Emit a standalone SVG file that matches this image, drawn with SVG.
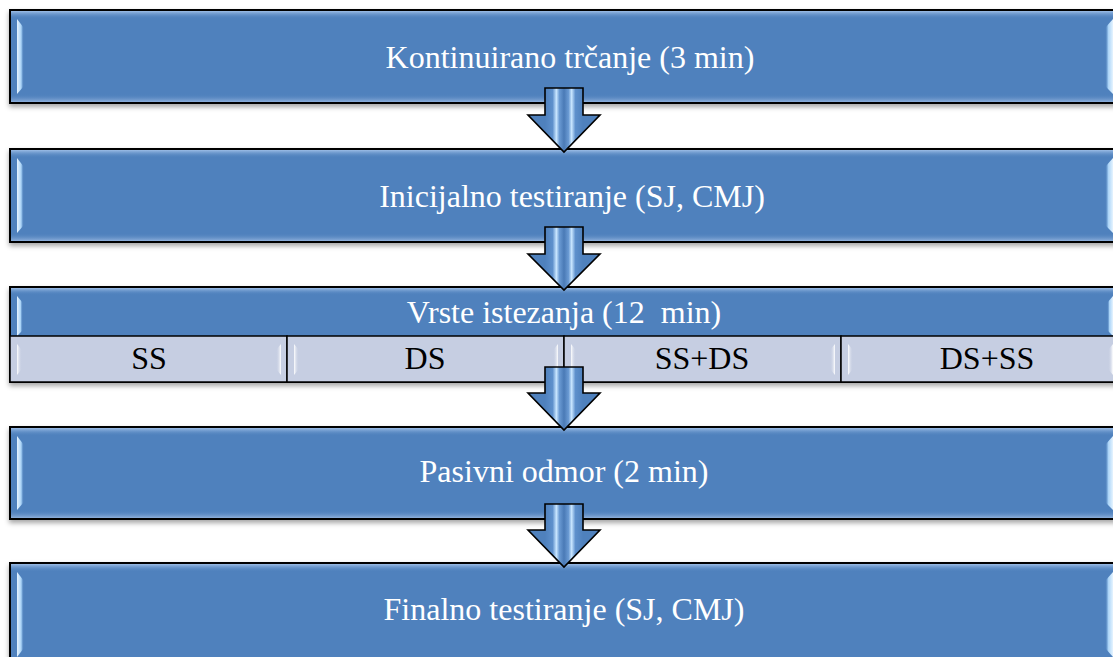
<svg xmlns="http://www.w3.org/2000/svg" width="1113" height="657" viewBox="0 0 1113 657">
<defs>
<style>
.box{fill:#4f81bd;stroke:#000;stroke-width:2}
.cell{fill:#c6cee2;stroke:#000;stroke-width:1.5}
.t{font-family:"Liberation Serif","Times New Roman",serif;font-size:32px;fill:#fff;text-anchor:middle;white-space:pre}
.tc{font-family:"Liberation Serif","Times New Roman",serif;font-size:32px;fill:#000;text-anchor:middle}
.arrow{fill:url(#ag);stroke:#000;stroke-width:1.6;stroke-linejoin:miter}
</style>
<linearGradient id="topb" x1="0" y1="0" x2="0" y2="1">
<stop offset="0" stop-color="#9cbde6"/><stop offset="1" stop-color="#4f81bd" stop-opacity="0"/>
</linearGradient>
<linearGradient id="botb" x1="0" y1="0" x2="0" y2="1">
<stop offset="0" stop-color="#4f81bd" stop-opacity="0"/><stop offset="1" stop-color="#8fb0db"/>
</linearGradient>
<linearGradient id="leftb" x1="0" y1="0" x2="1" y2="0">
<stop offset="0" stop-color="#e6f4ff"/><stop offset="0.6" stop-color="#a9d3f7"/><stop offset="1" stop-color="#4f81bd" stop-opacity="0"/>
</linearGradient>
<linearGradient id="rightb" x1="1" y1="0" x2="0" y2="0">
<stop offset="0" stop-color="#e6f4ff"/><stop offset="0.6" stop-color="#a9d3f7"/><stop offset="1" stop-color="#4f81bd" stop-opacity="0"/>
</linearGradient>
<linearGradient id="cellL" x1="0" y1="0" x2="1" y2="0">
<stop offset="0" stop-color="#ffffff"/><stop offset="1" stop-color="#c6cee2" stop-opacity="0"/>
</linearGradient>
<linearGradient id="cellR" x1="1" y1="0" x2="0" y2="0">
<stop offset="0" stop-color="#ffffff"/><stop offset="1" stop-color="#c6cee2" stop-opacity="0"/>
</linearGradient>
<linearGradient id="ag" x1="545" y1="0" x2="583" y2="0" gradientUnits="userSpaceOnUse">
<stop offset="0" stop-color="#4f81bd"/>
<stop offset="0.2" stop-color="#5e90cc"/>
<stop offset="0.3" stop-color="#c9e6ff"/>
<stop offset="0.38" stop-color="#6a9ad3"/>
<stop offset="0.5" stop-color="#4a7ab6"/>
<stop offset="0.62" stop-color="#6a9ad3"/>
<stop offset="0.7" stop-color="#c9e6ff"/>
<stop offset="0.8" stop-color="#5e90cc"/>
<stop offset="1" stop-color="#4f81bd"/>
</linearGradient>
<filter id="sh" x="-5%" y="-20%" width="110%" height="150%">
<feDropShadow dx="0" dy="3" stdDeviation="2.5" flood-color="#000" flood-opacity="0.35"/>
</filter>
</defs>

<g id="node1">
<rect class="box" x="10" y="10" width="1110" height="93" filter="url(#sh)"/>
<rect x="11" y="11" width="1108" height="8" fill="url(#topb)"/>
<rect x="11" y="94" width="1108" height="8" fill="url(#botb)"/>
<path d="M17,19 L24,28 L24,86 L17,94 Z" fill="url(#leftb)"/>
<path d="M1113,19 L1105,28 L1105,86 L1113,94 Z" fill="url(#rightb)"/>
<text class="t" x="570" y="68">Kontinuirano trčanje (3 min)</text>
</g>

<g id="node2">
<rect class="box" x="10" y="149" width="1110" height="93" filter="url(#sh)"/>
<rect x="11" y="150" width="1108" height="8" fill="url(#topb)"/>
<rect x="11" y="233" width="1108" height="8" fill="url(#botb)"/>
<path d="M17,158 L24,167 L24,225 L17,233 Z" fill="url(#leftb)"/>
<path d="M1113,158 L1105,167 L1105,225 L1113,233 Z" fill="url(#rightb)"/>
<text class="t" x="572" y="207">Inicijalno testiranje (SJ, CMJ)</text>
</g>

<g id="node3">
<rect class="box" x="10" y="287" width="1110" height="95" filter="url(#sh)"/>
<rect x="11" y="288" width="1108" height="7" fill="url(#topb)"/>
<path d="M17,296 L23,303 L23,330 L17,336 Z" fill="url(#leftb)"/>
<path d="M1113,296 L1107,303 L1107,330 L1113,336 Z" fill="url(#rightb)"/>
<text class="t" x="564" y="323" xml:space="preserve">Vrste istezanja (12  min)</text>
<g id="cells">
<rect class="cell" x="10" y="336" width="277" height="46"/>
<rect class="cell" x="287" y="336" width="277" height="46"/>
<rect class="cell" x="564" y="336" width="277" height="46"/>
<rect class="cell" x="841" y="336" width="279" height="46"/>
<path d="M17,344 L22,350 L22,369 L17,375 Z" fill="url(#cellL)"/>
<path d="M281,344 L276,350 L276,369 L281,375 Z" fill="url(#cellR)"/>
<path d="M294,344 L299,350 L299,369 L294,375 Z" fill="url(#cellL)"/>
<path d="M558,344 L553,350 L553,369 L558,375 Z" fill="url(#cellR)"/>
<path d="M571,344 L576,350 L576,369 L571,375 Z" fill="url(#cellL)"/>
<path d="M835,344 L830,350 L830,369 L835,375 Z" fill="url(#cellR)"/>
<path d="M848,344 L853,350 L853,369 L848,375 Z" fill="url(#cellL)"/>
<path d="M1113,344 L1108,350 L1108,369 L1113,375 Z" fill="url(#cellR)"/>
<text class="tc" x="149" y="369">SS</text>
<text class="tc" x="425" y="369">DS</text>
<text class="tc" x="702" y="369">SS+DS</text>
<text class="tc" x="987" y="369">DS+SS</text>
</g>
</g>

<g id="node4">
<rect class="box" x="10" y="427" width="1110" height="92" filter="url(#sh)"/>
<rect x="11" y="428" width="1108" height="8" fill="url(#topb)"/>
<rect x="11" y="510" width="1108" height="8" fill="url(#botb)"/>
<path d="M17,436 L24,445 L24,502 L17,510 Z" fill="url(#leftb)"/>
<path d="M1113,436 L1105,445 L1105,502 L1113,510 Z" fill="url(#rightb)"/>
<text class="t" x="564" y="482">Pasivni odmor (2 min)</text>
</g>

<g id="node5">
<rect class="box" x="10" y="563" width="1110" height="100" filter="url(#sh)"/>
<rect x="11" y="564" width="1108" height="8" fill="url(#topb)"/>
<path d="M17,572 L24,581 L24,648 L17,657 Z" fill="url(#leftb)"/>
<path d="M1113,572 L1105,581 L1105,648 L1113,657 Z" fill="url(#rightb)"/>
<text class="t" x="564" y="620">Finalno testiranje (SJ, CMJ)</text>
</g>

<g id="connectors">
<path class="arrow" d="M545,88 L583,88 L583,115 L600,115 L564,152 L528,115 L545,115 Z"/>
<path class="arrow" d="M545,227 L583,227 L583,254 L600,254 L564,290 L528,254 L545,254 Z"/>
<path class="arrow" d="M545,367 L583,367 L583,393 L600,393 L564,430 L528,393 L545,393 Z"/>
<path class="arrow" d="M545,504 L583,504 L583,530 L600,530 L564,567 L528,530 L545,530 Z"/>
</g>
</svg>
